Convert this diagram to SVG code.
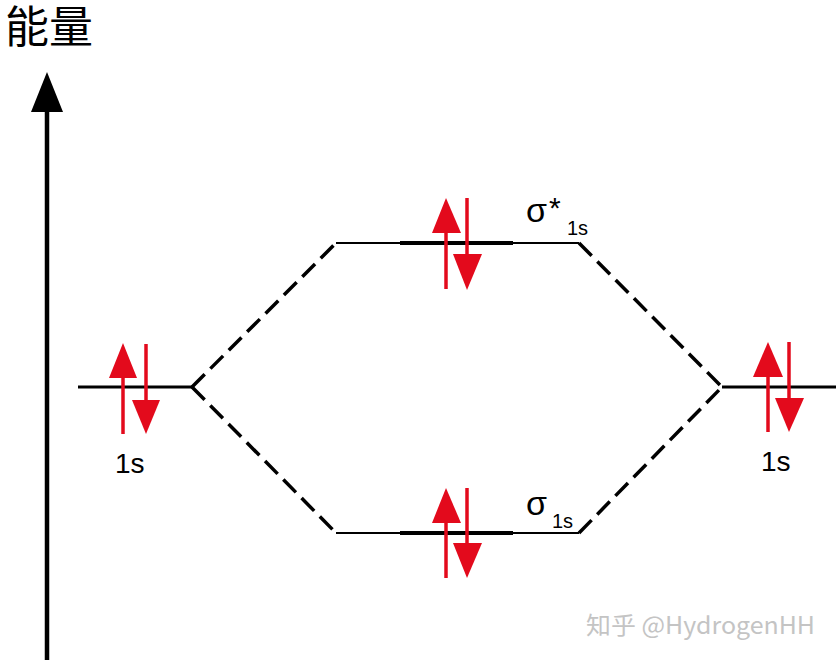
<svg xmlns="http://www.w3.org/2000/svg" width="836" height="661" viewBox="0 0 836 661">
<defs>
<style>
.lvl{stroke:#000;stroke-width:3;fill:none}
.thin{stroke:#000;stroke-width:2;fill:none}
.thick{stroke:#000;stroke-width:4;fill:none}
.dash{stroke:#000;stroke-width:3.5;fill:none;stroke-dasharray:18 8}
.e{stroke:#e30a1c;stroke-width:3.5;fill:none}
.eh{fill:#e30a1c}
.lab{font-family:"Liberation Sans",Arial,sans-serif;fill:#000}
.wm{font-family:"Noto Sans CJK SC","Liberation Sans",sans-serif;fill:#c4c4c4;font-size:24px}
</style>
</defs>
<rect width="836" height="661" fill="#fff"/>
<g id="axis">
<line x1="47" y1="660" x2="47" y2="108" stroke="#000" stroke-width="4.5"/>
<polygon points="47,72 31,112 63,112" fill="#000"/>
<text x="5" y="43" font-family="Noto Sans CJK SC,sans-serif" font-size="44" fill="#000">能量</text>
</g>
<g id="connectors">
<line class="dash" x1="192" y1="387" x2="336" y2="243"/>
<line class="dash" x1="192" y1="387" x2="336" y2="533"/>
<line class="dash" x1="579" y1="243" x2="722" y2="387"/>
<line class="dash" x1="579" y1="533" x2="722" y2="387"/>
</g>
<g id="left-1s">
<line class="lvl" x1="78" y1="387" x2="192" y2="387"/>
<line class="e" x1="123" y1="434" x2="123" y2="370"/>
<polygon class="eh" points="123,343 109,378 137,378"/>
<line class="e" x1="146" y1="344" x2="146" y2="405"/>
<polygon class="eh" points="146,434 132,400 160,400"/>
<text class="lab" x="115" y="473" font-size="28">1s</text>
</g>
<g id="sigma-star">
<line class="thin" x1="336" y1="243" x2="579" y2="243"/>
<line class="thick" x1="400" y1="243" x2="513" y2="243"/>
<line class="e" x1="446" y1="289" x2="446" y2="225"/>
<polygon class="eh" points="446,198 432,233 461,233"/>
<line class="e" x1="467" y1="198" x2="467" y2="260"/>
<polygon class="eh" points="467,290 453,254 482,254"/>
<text class="lab" x="526" y="222" font-size="34">σ</text>
<text class="lab" x="549" y="218" font-size="30">*</text>
<text class="lab" x="567" y="235" font-size="20">1s</text>
</g>
<g id="sigma">
<line class="thin" x1="336" y1="533" x2="579" y2="533"/>
<line class="thick" x1="400" y1="533" x2="513" y2="533"/>
<line class="e" x1="446" y1="578" x2="446" y2="515"/>
<polygon class="eh" points="446,488 432,523 461,523"/>
<line class="e" x1="467" y1="488" x2="467" y2="550"/>
<polygon class="eh" points="467,578 453,543 482,543"/>
<text class="lab" x="526" y="515" font-size="34">σ</text>
<text class="lab" x="552" y="528" font-size="20">1s</text>
</g>
<g id="right-1s">
<line class="lvl" x1="722" y1="387" x2="836" y2="387"/>
<line class="e" x1="768" y1="432" x2="768" y2="370"/>
<polygon class="eh" points="768,342 753,377 783,377"/>
<line class="e" x1="789" y1="342" x2="789" y2="404"/>
<polygon class="eh" points="789,432 775,398 804,398"/>
<text class="lab" x="761" y="471" font-size="28">1s</text>
</g>
<g id="watermark">
<text class="wm" x="586" y="634" textLength="229" lengthAdjust="spacingAndGlyphs">知乎 @HydrogenHH</text>
</g>
</svg>
